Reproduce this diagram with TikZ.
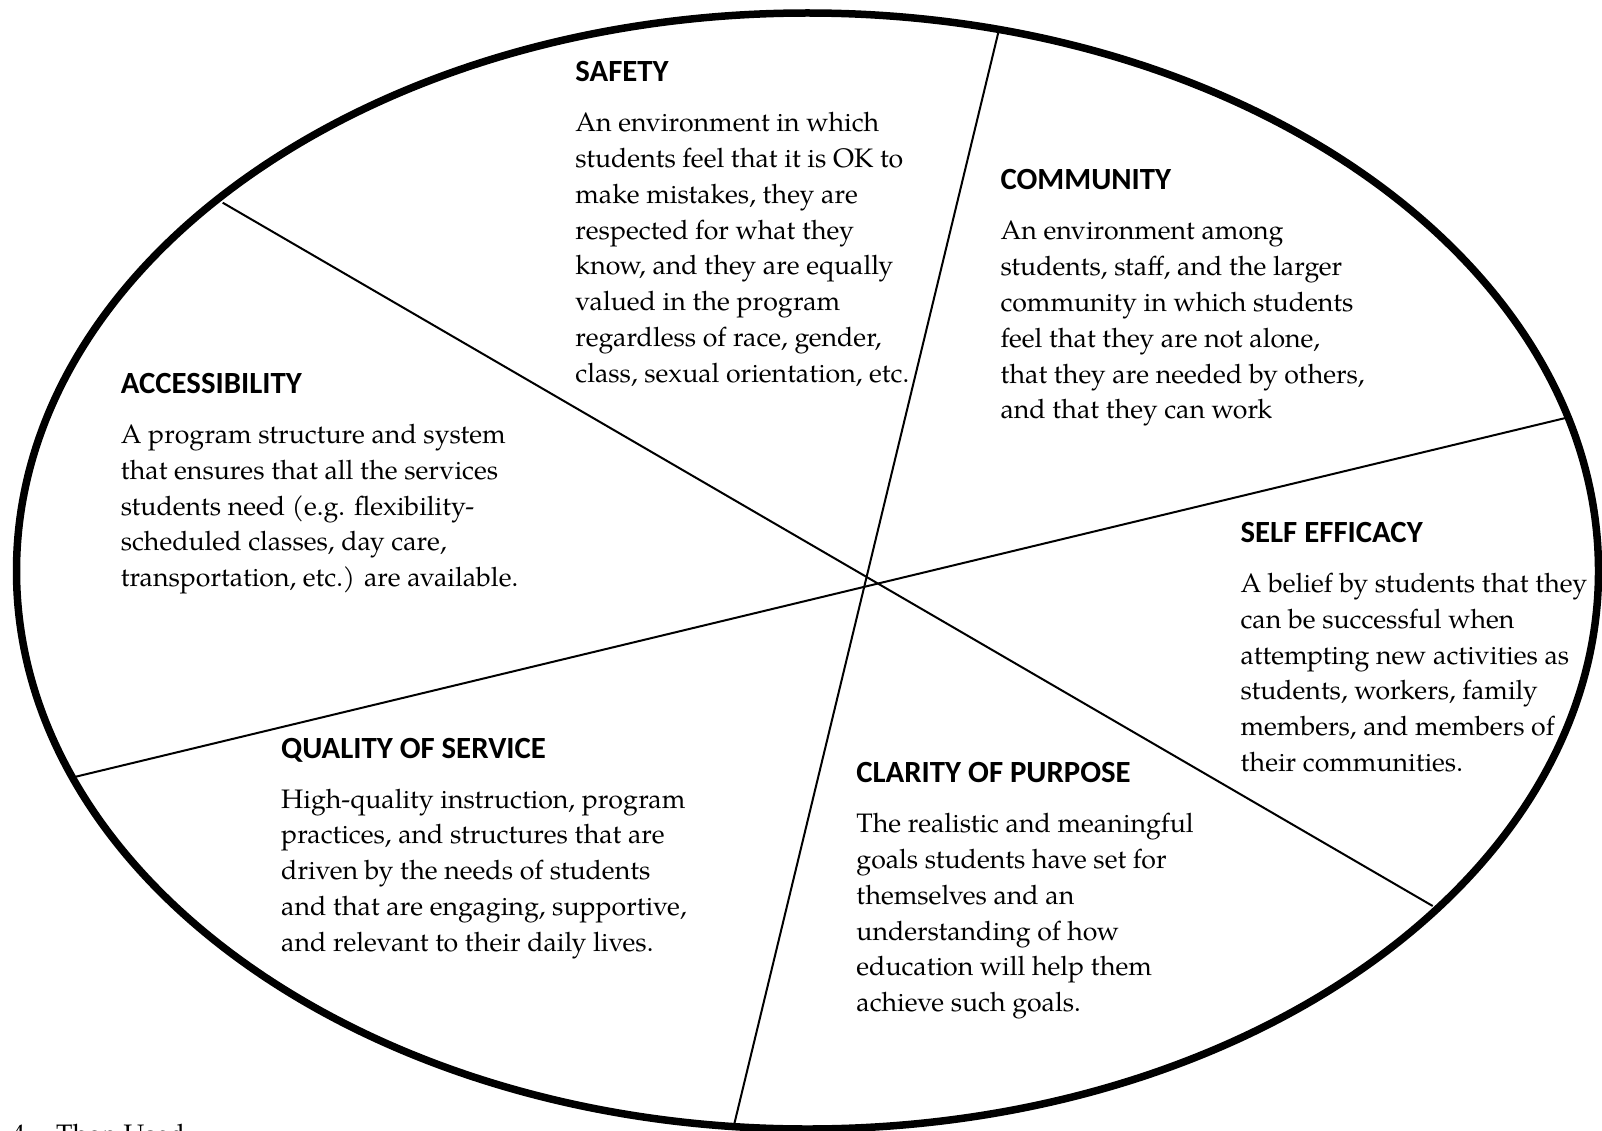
\documentclass[tikz,border=0pt]{standalone}
\usepackage{fontspec}
\setmainfont{texgyrepagella-regular.otf}
\newfontfamily\headfont{Carlito}
\newcommand\txtlines[1]{\vtop{\baselineskip=35.8pt\lineskiplimit=-100pt\halign{##\hfil\cr#1\crcr}}}
\tikzset{
  head/.style={anchor=base west, inner sep=0pt, font=\headfont\bfseries\fontsize{30.8}{31}\selectfont},
  body/.style={anchor=base west, inner sep=0pt, font=\fontsize{26.7}{35.8}\selectfont},
  divider/.style={line width=2pt},
  rim/.style={line width=7.5pt}
}
\begin{document}
\begin{tikzpicture}[x=1pt,y=-1pt]
\useasboundingbox (0,0) rectangle (1602,1131);
\clip (0,0) rectangle (1602,1131);
% outer ellipse
\draw[rim] (807.5,571) ellipse [x radius=791, y radius=558];
% divider end points
\coordinate (a1) at (222.7,202.7);
\coordinate (a2) at (1432.7,906);
\coordinate (b1) at (998.9,30);
\coordinate (b2) at (733.3,1128);
\coordinate (c1) at (72,777.6);
\coordinate (c2) at (1568.8,417.2);
\draw[divider] (a1) -- (a2);
\draw[divider] (b1) -- (b2);
\draw[divider] (c1) -- (c2);
% SAFETY
\node[head] (safetyh) at (575.2,81.7) {SAFETY};
\node[body] (safetyb) at (575.2,131.7) {\txtlines{An environment in which\cr
students feel that it is OK to\cr
make mistakes, they are\cr
respected for what they\cr
know, and they are equally\cr
valued in the program\cr
regardless of race, gender,\cr
class, sexual orientation, etc.}};
% COMMUNITY
\node[head] (commh) at (1000.3,190) {COMMUNITY};
\node[body] (commb) at (1000.3,240) {\txtlines{An environment among\cr
students, staff, and the larger\cr
community in which students\cr
feel that they are not alone,\cr
that they are needed by others,\cr
and that they can work}};
% ACCESSIBILITY
\node[head] (acch) at (120.6,393.4) {ACCESSIBILITY};
\node[body] (accb) at (120.6,443.4) {\txtlines{A program structure and system\cr
that ensures that all the services\cr
students need (e.g. flexibility-\cr
scheduled classes, day care,\cr
transportation, etc.) are available.}};
% SELF EFFICACY
\node[head] (selfh) at (1240.4,542.5) {SELF EFFICACY};
\node[body] (selfb) at (1240.4,592.5) {\txtlines{A belief by students that they\cr
can be successful when\cr
attempting new activities as\cr
students, workers, family\cr
members, and members of\cr
their communities.}};
% QUALITY OF SERVICE
\node[head] (qualh) at (281,758.1) {QUALITY OF SERVICE};
\node[body] (qualb) at (281,808.1) {\txtlines{High-quality instruction, program\cr
practices, and structures that are\cr
driven by the needs of students\cr
and that are engaging, supportive,\cr
and relevant to their daily lives.}};
% CLARITY OF PURPOSE
\node[head] (clarh) at (856.2,782.6) {CLARITY OF PURPOSE};
\node[body] (clarb) at (856.2,832.6) {\txtlines{The realistic and meaningful\cr
goals students have set for\cr
themselves and an\cr
understanding of how\cr
education will help them\cr
achieve such goals.}};
% clipped caption fragment
\node[body] (frag) at (12,1143) {4.\hspace{24pt}Than Used};
\end{tikzpicture}
\end{document}
